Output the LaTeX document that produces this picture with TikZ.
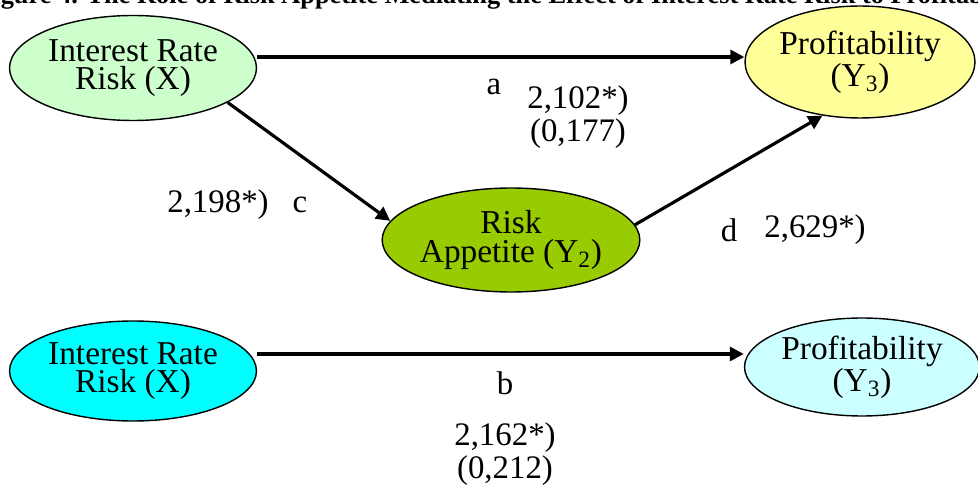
\documentclass[tikz,border=0pt]{standalone}
\usepackage{fontspec}
\setmainfont{Liberation Serif}
\usepackage{tikz}
\usetikzlibrary{shapes.geometric,arrows.meta}

\definecolor{mintgreen}{HTML}{CCFFCC}
\definecolor{paleyellow}{HTML}{FFFF99}
\definecolor{olivegreen}{HTML}{99CC00}
\definecolor{brightcyan}{HTML}{00FFFF}
\definecolor{palecyan}{HTML}{CCFFFF}

\tikzset{
  var/.style={ellipse,draw=black,line width=0.8pt,align=center,
    inner sep=0pt,font=\fontsize{19}{16}\selectfont},
  path/.style={line width=1.8pt,-{Triangle[length=8pt,width=8pt]}},
  coef/.style={font=\fontsize{18.7}{18.7}\selectfont,inner sep=0pt},
}

\begin{document}
\begin{tikzpicture}[x=0.02cm,y=-0.02cm]
\useasboundingbox (0,0) rectangle (978,493);
% title, cut off by the page edge
\node[anchor=base west,font=\bfseries\fontsize{15}{15}\selectfont,inner sep=0pt]
  (title) at (-23,4) {Figure 4. The Role of Risk Appetite Mediating the Effect of Interest Rate Risk to Profitability};

% mediation model
\node[var,fill=mintgreen,minimum width=4.94cm,minimum height=2.1cm] (irr) at (133,68) {Interest Rate\\Risk (X)};
\node[var,fill=paleyellow,minimum width=4.6cm,minimum height=2.24cm] (prof) at (860,62) {Profitability\\(Y\textsubscript{3})};
\node[var,fill=olivegreen,minimum width=5.1cm,minimum height=2.08cm] (app) at (511,240) {Risk\\Appetite (Y\textsubscript{2})};

\draw[path] (irr.east |- 0,57) -- (prof.west |- 0,57);
\draw[path] (irr.-20) -- (app.171);
\draw[path] (app.7) -- (prof.-125);

\node[coef] (a) at (494,87) {a};
\node[coef,align=center] (acoef) at (578,117) {2,102*)\\(0,177)};
\node[coef] (ccoef) at (218,205) {2,198*)};
\node[coef] (c) at (300,205) {c};
\node[coef] (d) at (729,230) {d};
\node[coef] (dcoef) at (815,230) {2,629*)};

% total effect
\node[var,fill=brightcyan,minimum width=4.94cm,minimum height=2.0cm] (irr2) at (133,371) {Interest Rate\\Risk (X)};
\node[var,fill=palecyan,minimum width=4.7cm,minimum height=1.96cm] (prof2) at (862,367) {Profitability\\(Y\textsubscript{3})};

\draw[path] (irr2.east |- 0,354) -- (prof2.west |- 0,354);

\node[coef] (b) at (505,383) {b};
\node[coef,align=center] (bcoef) at (505,454) {2,162*)\\(0,212)};
\end{tikzpicture}
\end{document}
